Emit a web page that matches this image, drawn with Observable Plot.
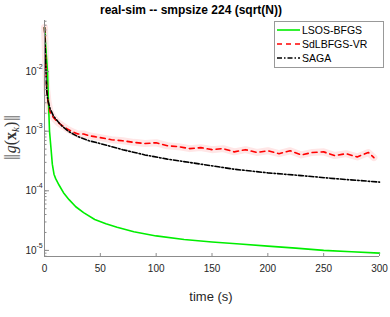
<!DOCTYPE html>
<html><head><meta charset="utf-8">
<script src="https://cdn.jsdelivr.net/npm/d3@7"></script>
<script src="https://cdn.jsdelivr.net/npm/@observablehq/plot@0.6"></script>
<style>body{margin:0;background:#fff} svg{display:block}</style>
</head><body><div id="chart"></div>
<script>
const seriesNames = ["LSOS-BFGS", "SdLBFGS-VR", "SAGA"];
const xTicks = [0, 50, 100, 150, 200, 250, 300];
const yMajor = [1e-5, 1e-4, 1e-3, 1e-2];
const yDomain = [7.9e-6, 0.072];

const lsosT = [0, 0.5, 1, 1.8, 2.7, 3.5, 4.5, 6, 7, 8.5, 10, 13, 17, 22, 28, 35, 45, 55, 65, 80, 100, 125, 150, 175, 200, 225, 250, 275, 300];
const lsosV = [0.055, 0.04, 0.028, 0.017, 1e-2, 3.3e-3, 1e-3, 4.7e-4, 2.8e-4, 1.9e-4, 1.6e-4, 1.25e-4, 9.3e-5, 7.1e-5, 5.4e-5, 4.3e-5, 3.3e-5, 2.8e-5, 2.45e-5, 2.05e-5, 1.75e-5, 1.52e-5, 1.38e-5, 1.28e-5, 1.18e-5, 1.09e-5, 1.0e-5, 9.5e-6, 9.0e-6];

const sdT = [0, 0.5, 1, 2, 3, 5, 8, 12, 16, 20, 25, 30, 35, 40, 45, 50, 60, 70, 80, 90, 100, 110, 120, 130, 140, 150, 160, 170, 180, 190, 200, 210, 220, 230, 240, 250, 260, 270, 280, 290, 295];
const sdV = [0.055, 0.03, 0.015, 5e-3, 3.3e-3, 2.1e-3, 1.7e-3, 1.4e-3, 1.24e-3, 1.1e-3, 9.8e-4, 9.0e-4, 9.0e-4, 8.4e-4, 8.1e-4, 7.8e-4, 7.2e-4, 6.9e-4, 6.5e-4, 6.2e-4, 6.4e-4, 5.7e-4, 5.5e-4, 5.1e-4, 5.3e-4, 4.9e-4, 5.1e-4, 4.5e-4, 4.9e-4, 4.4e-4, 4.7e-4, 4.2e-4, 4.7e-4, 4.0e-4, 4.4e-4, 4.5e-4, 3.9e-4, 4.2e-4, 3.7e-4, 4.4e-4, 3.6e-4];

const sagaT = [0, 0.5, 1, 2, 3, 5, 8, 12, 16, 22, 30, 40, 50, 70, 90, 110, 140, 170, 200, 230, 260, 300];
const sagaV = [0.055, 0.03, 0.015, 4.8e-3, 3.3e-3, 2.4e-3, 1.8e-3, 1.45e-3, 1.2e-3, 9.8e-4, 8.1e-4, 6.9e-4, 6.2e-4, 4.9e-4, 4.0e-4, 3.4e-4, 2.8e-4, 2.3e-4, 2.0e-4, 1.8e-4, 1.6e-4, 1.4e-4];

const zip = (T, V) => T.map((t, i) => ({t, v: V[i]}));
const lsos = zip(lsosT, lsosV), sd = zip(sdT, sdV), saga = zip(sagaT, sagaV);

const font = "'Liberation Sans', Arial, Helvetica, sans-serif";
const axisGray = "#8c8c8c";

const plot = Plot.plot({
  width: 390, height: 317,
  marginLeft: 44, marginRight: 11, marginTop: 20, marginBottom: 61,
  style: {fontFamily: font, fontSize: "10px", color: "#262626", background: "#fff"},
  x: {domain: [0, 300], label: null},
  y: {type: "log", domain: yDomain, label: null},
  marks: [
    Plot.line(sd, {x: "t", y: "v", stroke: "#ffe6e6", strokeWidth: 7}),
    Plot.line(lsos, {x: "t", y: "v", stroke: "#00ee00", strokeWidth: 1.6}),
    Plot.line(sd, {x: "t", y: "v", stroke: "#ff0000", strokeWidth: 1.6, strokeDasharray: "5,4"}),
    Plot.line(saga, {x: "t", y: "v", stroke: "#000", strokeWidth: 1.6, strokeDasharray: "5,2,1.5,2"}),
    Plot.ruleX([0], {stroke: axisGray}),
    Plot.ruleY([yDomain[0]], {stroke: axisGray}),
    Plot.axisX({ticks: xTicks, tickSize: -3, tickPadding: 11, stroke: axisGray, fontSize: 10}),
    Plot.axisY({tickSize: -2.5, tickFormat: () => "", stroke: axisGray}),
    Plot.axisY({ticks: yMajor, tickSize: -5, tickFormat: () => "", stroke: axisGray}),
    Plot.text(yMajor, {y: d => d, frameAnchor: "left", text: () => "10", textAnchor: "end", dx: -8, fontSize: 10, fill: "#262626"}),
    Plot.text(yMajor, {y: d => d, frameAnchor: "left", text: d => String(Math.round(Math.log10(d))), textAnchor: "start", dx: -8, dy: -5, fontSize: 7, fill: "#262626"})
  ]
});
document.getElementById("chart").append(plot);

const svg = d3.select(plot);
svg.append("text").attr("x", 191).attr("y", 14).attr("text-anchor", "middle")
  .attr("font-family", font).attr("font-weight", "bold").attr("font-size", 12).attr("fill", "#000")
  .text("real-sim -- smpsize 224 (sqrt(N))");
svg.append("text").attr("x", 211).attr("y", 301).attr("text-anchor", "middle")
  .attr("font-family", font).attr("font-size", 13).attr("fill", "#262626").text("time (s)");
const yl = svg.append("text").attr("transform", "translate(16,138) rotate(-90)").attr("text-anchor", "middle")
  .attr("font-family", "'Liberation Serif', serif").attr("font-size", 16).attr("fill", "#333");
yl.append("tspan").attr("letter-spacing", -1).text("||");
yl.append("tspan").attr("font-style", "italic").attr("dx", 2).text("g");
yl.append("tspan").text("(");
yl.append("tspan").attr("font-weight", "bold").text("x");
yl.append("tspan").attr("font-style", "italic").attr("font-size", 11).attr("dy", 3).text("k");
yl.append("tspan").attr("dy", -3).text(")");
yl.append("tspan").attr("letter-spacing", -1).attr("dx", 1).text("||");

// legend
const lg = svg.append("g");
lg.append("rect").attr("x", 274.5).attr("y", 21.5).attr("width", 109).attr("height", 46)
  .style("fill", "#fff").style("stroke", "#999").style("stroke-width", 1);
const styles = [
  {stroke: "#00ee00", dash: null},
  {stroke: "#ff0000", dash: "5,4"},
  {stroke: "#000", dash: "5,2,1.5,2"}
];
seriesNames.forEach((name, i) => {
  const y = 30 + i * 14;
  lg.append("line").attr("x1", 277).attr("x2", 300).attr("y1", y).attr("y2", y)
    .attr("stroke", styles[i].stroke).attr("stroke-width", 1.6).attr("stroke-dasharray", styles[i].dash);
  lg.append("text").attr("x", 302).attr("y", y + 3.6).attr("text-anchor", "start")
    .attr("font-family", font).attr("font-size", 10.5).attr("fill", "#000").text(name);
});
</script></body></html>
